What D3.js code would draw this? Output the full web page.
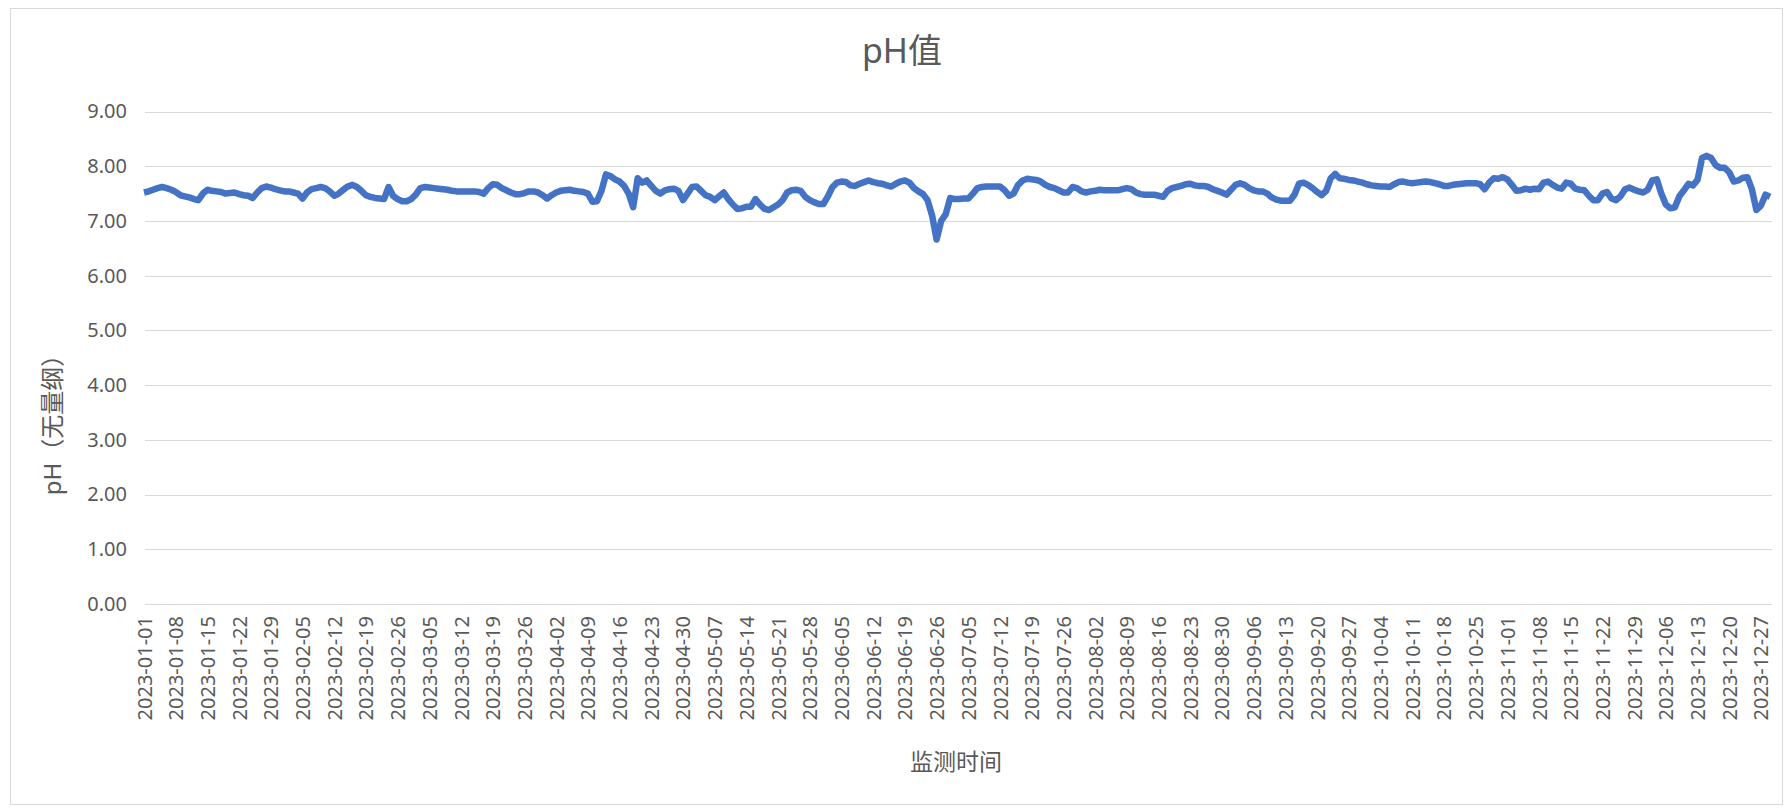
<!DOCTYPE html>
<html>
<head>
<meta charset="utf-8">
<script src="https://cdn.jsdelivr.net/npm/d3@7"></script>
<style>
  html, body { margin: 0; padding: 0; background: #ffffff; }
  svg { display: block; }
  text { font-family: "Noto Sans", "Noto Sans CJK SC", sans-serif; fill: #595959; }
</style>
</head>
<body>
<svg id="chart" width="1784" height="808"></svg>
<script>
// Daily pH readings, 2023 (monitoring days only)
const firstDay = "2023-01-01";
const lastDay = "2023-12-29";
const skippedDays = ["2023-06-01", "2023-06-29", "2023-06-30"];

const phValues = [
  7.52,7.54,7.57,7.60,7.62,7.60,7.57,7.53,7.47,7.45,
  7.43,7.40,7.38,7.50,7.57,7.55,7.54,7.53,7.50,7.51,
  7.52,7.49,7.47,7.46,7.42,7.52,7.60,7.63,7.61,7.58,
  7.56,7.54,7.54,7.52,7.50,7.41,7.52,7.58,7.60,7.62,
  7.60,7.54,7.46,7.50,7.57,7.63,7.66,7.62,7.55,7.47,
  7.44,7.42,7.41,7.40,7.62,7.46,7.40,7.36,7.36,7.40,
  7.48,7.60,7.62,7.61,7.60,7.59,7.58,7.57,7.55,7.54,
  7.54,7.54,7.54,7.54,7.53,7.50,7.60,7.67,7.66,7.60,
  7.56,7.52,7.49,7.49,7.51,7.54,7.54,7.52,7.47,7.41,
  7.47,7.52,7.55,7.56,7.57,7.55,7.54,7.53,7.50,7.35,
  7.36,7.55,7.85,7.82,7.76,7.72,7.64,7.50,7.25,7.78,
  7.70,7.74,7.64,7.55,7.50,7.56,7.58,7.59,7.55,7.38,
  7.50,7.62,7.63,7.55,7.47,7.44,7.38,7.45,7.52,7.40,
  7.30,7.22,7.23,7.26,7.26,7.40,7.30,7.22,7.20,
  7.25,7.30,7.38,7.52,7.56,7.57,7.55,7.44,7.38,7.34,
  7.31,7.31,7.45,7.62,7.70,7.72,7.71,7.65,7.64,7.68,
  7.71,7.74,7.71,7.69,7.68,7.65,7.63,7.68,7.72,7.74,
  7.70,7.60,7.54,7.49,7.38,7.10,6.66,7.00,7.12,7.42,
  7.40,7.40,7.41,7.41,7.50,7.60,7.62,7.63,
  7.63,7.63,7.63,7.56,7.46,7.50,7.66,7.74,7.77,7.76,
  7.75,7.72,7.66,7.62,7.60,7.56,7.52,7.52,7.62,7.60,
  7.54,7.52,7.54,7.55,7.57,7.56,7.56,7.56,7.56,7.58,
  7.60,7.58,7.52,7.49,7.48,7.48,7.48,7.46,7.44,7.55,
  7.60,7.62,7.64,7.67,7.68,7.65,7.64,7.64,7.62,7.58,
  7.55,7.52,7.48,7.57,7.66,7.69,7.66,7.60,7.56,7.54,
  7.54,7.50,7.43,7.39,7.37,7.37,7.37,7.48,7.68,7.70,
  7.66,7.60,7.53,7.47,7.55,7.78,7.86,7.78,7.77,7.75,
  7.74,7.72,7.70,7.67,7.65,7.64,7.63,7.63,7.62,7.67,
  7.71,7.72,7.70,7.69,7.70,
  7.71,7.72,7.71,7.69,7.67,7.64,7.64,7.66,7.67,7.68,
  7.69,7.69,7.69,7.67,7.58,7.70,7.78,7.77,7.80,7.76,
  7.66,7.55,7.56,7.59,7.57,7.59,7.58,7.70,7.72,7.66,
  7.61,7.59,7.70,7.68,7.59,7.57,7.56,7.46,7.38,7.38,
  7.50,7.53,7.41,7.38,7.45,7.58,7.61,7.57,7.54,7.52,
  7.57,7.74,7.76,7.50,7.30,7.23,7.25,7.45,7.56,7.68,
  7.65,7.75,8.15,8.19,8.15,8.02,7.97,7.97,7.89,7.72,
  7.74,7.79,7.80,7.58,7.20,7.28,7.48,7.44
];

const yTicks = [0, 1, 2, 3, 4, 5, 6, 7, 8, 9];
const labelEvery = 7;
const chartTitle = "pH值";
const yTitle = "pH（无量纲）";
const xTitle = "监测时间";

// Category list: every calendar day in range, minus days with no reading
const fmt = d3.timeFormat("%Y-%m-%d");
const parse = d3.timeParse("%Y-%m-%d");
const dates = d3.timeDay.range(parse(firstDay), d3.timeDay.offset(parse(lastDay), 1))
  .map(fmt)
  .filter(d => !skippedDays.includes(d));
const data = dates.map((d, i) => ({ date: d, value: phValues[i] }));
const tickLabels = dates.filter((d, i) => i % labelEvery === 0);

const svg = d3.select("#chart");
const W = 1784, H = 808;
const plot = { left: 145, right: 1772, top: 111.5, bottom: 604 };

svg.append("rect").attr("width", W).attr("height", H).attr("fill", "#ffffff");
svg.append("rect")
  .attr("x", 10.5).attr("y", 8.5)
  .attr("width", 1772).attr("height", 796)
  .attr("fill", "none").attr("stroke", "#D9D9D9").attr("stroke-width", 1);

const x = d3.scalePoint().domain(dates).range([144, 1770]);
const y = d3.scaleLinear().domain([0, 9]).range([plot.bottom, plot.top]);

// Horizontal gridlines and value labels
const yAxis = d3.axisLeft(y).tickValues(yTicks).tickFormat(d3.format(".2f"))
  .tickSize(-(plot.right - plot.left)).tickPadding(18);
const gy = svg.append("g").attr("transform", `translate(${plot.left},0)`).call(yAxis);
gy.select(".domain").remove();
gy.selectAll(".tick line").attr("stroke", "#D9D9D9").attr("stroke-width", 1)
  .attr("shape-rendering", "crispEdges");
gy.selectAll(".tick text").attr("font-size", 20).attr("fill", "#595959")
  .style("font-family", '"Noto Sans", sans-serif');

// Date labels, rotated
const xAxis = d3.axisBottom(x).tickValues(tickLabels).tickSize(0).tickPadding(0);
const gx = svg.append("g").attr("transform", `translate(0,${plot.bottom})`).call(xAxis);
gx.select(".domain").remove();
gx.selectAll(".tick text")
  .attr("font-size", 20).attr("fill", "#595959")
  .style("font-family", '"Noto Sans", sans-serif')
  .attr("text-anchor", "end")
  .attr("transform", "translate(0,12) rotate(-90)")
  .attr("x", 0).attr("y", 0).attr("dy", "0.35em");

// pH series
const line = d3.line().x(d => x(d.date)).y(d => y(d.value));
svg.append("path").datum(data)
  .attr("d", line)
  .attr("fill", "none")
  .attr("stroke", "#4472C4")
  .attr("stroke-width", 6.5)
  .attr("stroke-linejoin", "round")
  .attr("stroke-linecap", "butt");

// Titles
svg.append("text").attr("x", 902).attr("y", 63)
  .attr("text-anchor", "middle").attr("font-size", 34).text(chartTitle);

svg.append("text")
  .attr("transform", "translate(53,419) rotate(-90)")
  .attr("text-anchor", "middle").attr("dy", "0.35em")
  .attr("font-size", 24).text(yTitle);

svg.append("text").attr("x", 956).attr("y", 762)
  .attr("text-anchor", "middle").attr("dy", "0.35em")
  .attr("font-size", 23).text(xTitle);
</script>
</body>
</html>
